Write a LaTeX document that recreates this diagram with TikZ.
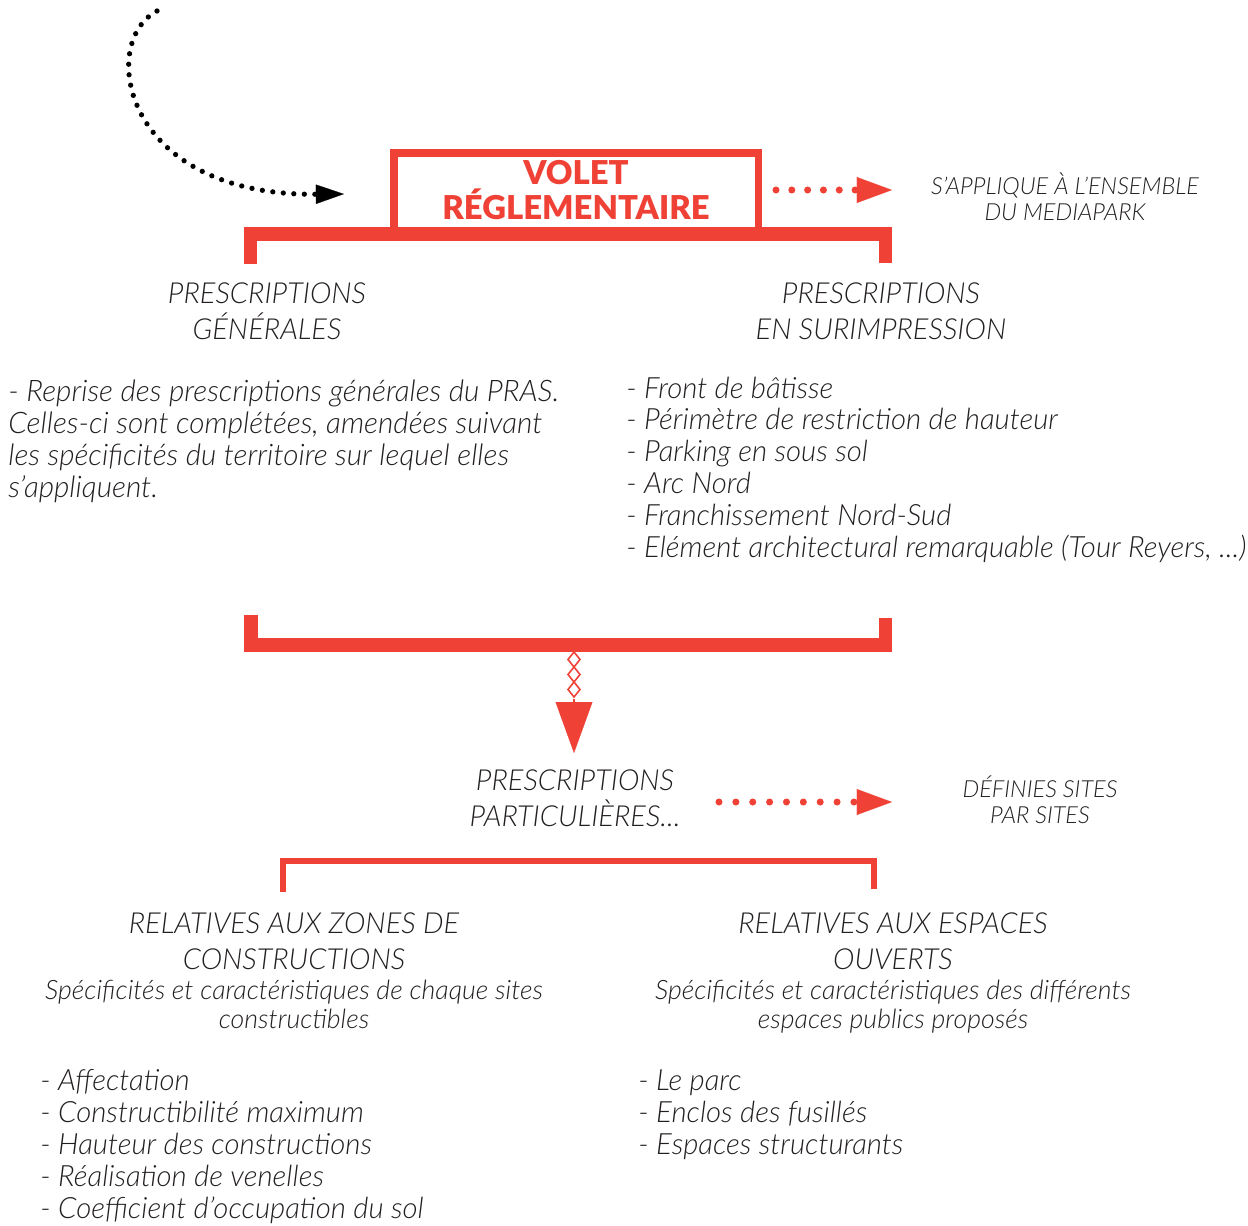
\documentclass[tikz,border=0pt]{standalone}
\usepackage{fontspec}
\IfFontExistsTF{Lato Light Italic}{%
  \setmainfont{Lato}[UprightFont={Lato Light}, ItalicFont={Lato Light Italic}, BoldFont={Lato Black}]}{%
  \setmainfont{Lato}}
\usetikzlibrary{positioning,arrows.meta}
\definecolor{mediared}{RGB}{239,65,54}
\definecolor{textgray}{RGB}{35,31,32}

\begin{document}
\begin{tikzpicture}[%
    x=0.02cm, y=-0.02cm,
    title/.style={%
        align=center,
        inner sep=0pt,
        text=mediared,
        font=\bfseries\fontsize{18.7}{20.4}\selectfont
    },
    heading/.style={%
        align=center,
        anchor=base,
        inner sep=0pt,
        text=textgray,
        font=\itshape\fontsize{16.5}{20.4}\selectfont
    },
    subheading/.style={%
        align=center,
        anchor=base,
        inner sep=0pt,
        text=textgray,
        font=\itshape\fontsize{15.2}{16.4}\selectfont
    },
    note/.style={%
        align=center,
        anchor=base,
        inner sep=0pt,
        text=textgray,
        font=\itshape\fontsize{13.4}{14.7}\selectfont
    },
    listing/.style={%
        align=left,
        anchor=base west,
        inner sep=0pt,
        text=textgray,
        font=\itshape\fontsize{16.7}{18.1}\selectfont
    },
    bracket/.style={%
        draw=mediared,
        line width=7.9pt,
        line join=miter
    },
    reddots/.style={%
        draw=mediared,
        line width=4pt,
        line cap=round,
        dash pattern=on 0pt off 9pt,
        -{Triangle[length=20pt, width=14.7pt, line width=0.1pt]}
    },
    >=stealth
]
\useasboundingbox (0,0) rectangle (1248,1225);

% Volet reglementaire
\node[title] (volet) at (576,190) {VOLET\\RÉGLEMENTAIRE};
\coordinate (boxL) at (394,234);
\coordinate (boxR) at (758.5,234);
\draw[draw=mediared, line width=4.5pt, line join=miter] (boxL) |- (576,153) -| (boxR);

% Top bracket
\coordinate (topL) at (250.5,264);
\coordinate (topR) at (885.5,263);
\draw[bracket] (topL) |- (568,234) -| (topR);

% Incoming arrow
\coordinate (start) at (157,11);
\coordinate (entry) at (344,194);
\draw[black, line width=3pt, line cap=round, dash pattern=on 0pt off 6pt,
      -{Triangle[length=16pt, width=11pt, line width=0.1pt]}]
    (start) .. controls (98,42) and (122,196) .. (entry);

% Scope note
\node[note] (scope) at (1065,220.5) {S’APPLIQUE À L’ENSEMBLE\\DU MEDIAPARK};
\coordinate (dotsA) at (776,190);
\coordinate (tipA) at (892,190);
\draw[reddots] (dotsA) -- (tipA);

% Prescriptions
\node[heading] (general) at (267,339.5) {PRESCRIPTIONS\\GÉNÉRALES};
\node[heading] (overlay) at (881,339.5) {PRESCRIPTIONS\\EN SURIMPRESSION};

\node[listing, font=\itshape\fontsize{16.9}{18.1}\selectfont] (generalText) at (8,497) {- Reprise des prescriptions générales du PRAS.\\
Celles-ci sont complétées, amendées suivant\\
les spécificités du territoire sur lequel elles\\
s’appliquent.};
\node[listing] (overlayText) at (626,557) {- Front de bâtisse\\
- Périmètre de restriction de hauteur\\
- Parking en sous sol\\
- Arc Nord\\
- Franchissement Nord-Sud\\
- Elément architectural remarquable (Tour Reyers, ...)};

% Middle bracket
\coordinate (midL) at (251,615);
\coordinate (midR) at (885.5,618);
\draw[bracket] (midL) |- (574,645) -| (midR);

% Link down
\foreach \k in {0,1,2}
    \draw[mediared, line width=0.9pt]
        (574,{652+15*\k}) -- (580,{659.5+15*\k}) -- (574,{667+15*\k}) -- (568,{659.5+15*\k}) -- cycle;
\coordinate (linkTop) at (574,699);
\coordinate (linkTip) at (574,753);
\draw[mediared, line width=0.9pt, -{Triangle[length=29pt, width=21pt, line width=0.1pt]}] (linkTop) -- (linkTip);

% Particular prescriptions
\node[heading] (particular) at (575,826.5) {PRESCRIPTIONS\\PARTICULIÈRES...};
\node[note] (sites) at (1040,823.5) {DÉFINIES SITES\\PAR SITES};
\coordinate (dotsB) at (719,802);
\coordinate (tipB) at (892,802);
\draw[reddots, dash pattern=on 0pt off 9.6pt] (dotsB) -- (tipB);

% Bottom bracket
\coordinate (lowL) at (283,892);
\coordinate (lowR) at (874,889);
\draw[bracket, line width=3.4pt] (lowL) |- (578,861) -| (lowR);

% Zones de constructions
\node[heading] (zones) at (294,969.5) {RELATIVES AUX ZONES DE\\CONSTRUCTIONS};
\node[subheading] (zonesSub) at (294,1028) {Spécificités et caractéristiques de chaque sites\\constructibles};
\node[listing] (zonesList) at (40,1218) {- Affectation\\
- Constructibilité maximum\\
- Hauteur des constructions\\
- Réalisation de venelles\\
- Coefficient d’occupation du sol};

% Espaces ouverts
\node[heading] (open) at (893,969.5) {RELATIVES AUX ESPACES\\OUVERTS};
\node[subheading] (openSub) at (893,1028) {Spécificités et caractéristiques des différents\\espaces publics proposés};
\node[listing] (openList) at (638,1154) {- Le parc\\
- Enclos des fusillés\\
- Espaces structurants};

\end{tikzpicture}
\end{document}
